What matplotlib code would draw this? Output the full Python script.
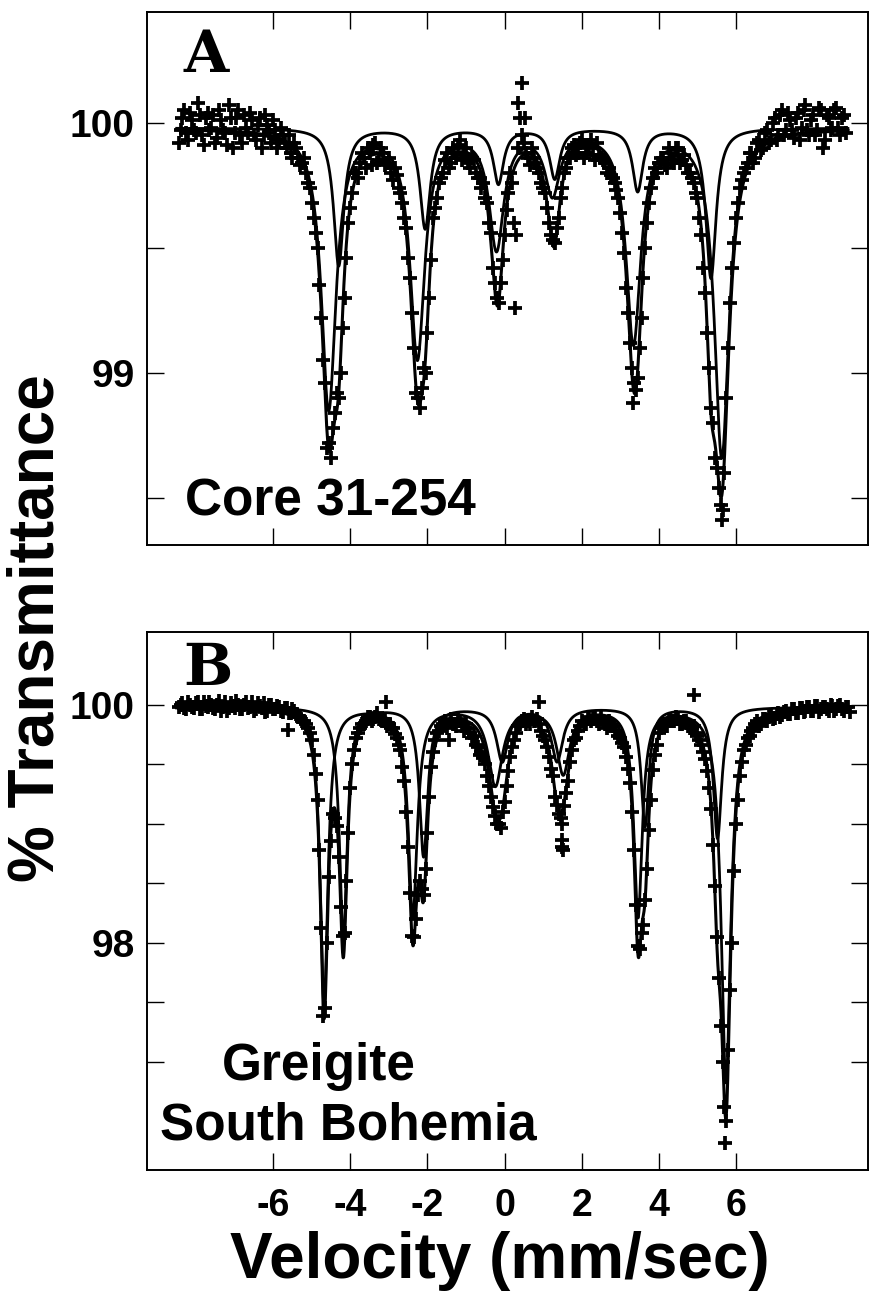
import numpy as np
import matplotlib
matplotlib.use("Agg")
import matplotlib.pyplot as plt

plt.rcParams['font.family'] = ['Liberation Sans', 'DejaVu Sans']

# ---- Core 31-254 (panel A) ----
vel_a = [-8.45, -8.35, -8.25, -8.15, -8.05, -7.95, -7.85, -7.75, -7.65, -7.55,
         -7.45, -7.35, -7.25, -7.15, -7.05, -6.95, -6.85, -6.75, -6.65, -6.55,
         -6.45, -6.35, -6.25, -6.15, -6.05, -5.95, -5.85, -5.75, -5.65, -5.55,
         -5.45, -5.35, -5.25, -5.15, -5.05, -4.95, -4.85, -4.75, -4.65, -4.55,
         -4.45, -4.35, -4.25, -4.15, -4.05, -3.95, -3.85, -3.75, -3.65, -3.55,
         -3.45, -3.35, -3.25, -3.15, -3.05, -2.95, -2.85, -2.75, -2.65, -2.55,
         -2.45, -2.35, -2.25, -2.15, -2.05, -1.95, -1.85, -1.75, -1.65, -1.55,
         -1.45, -1.35, -1.25, -1.15, -1.05, -0.95, -0.85, -0.75, -0.65, -0.55,
         -0.45, -0.35, -0.25, -0.15, -0.05, 0.05, 0.15, 0.25, 0.35, 0.45,
         0.55, 0.65, 0.75, 0.85, 0.95, 1.05, 1.15, 1.25, 1.35, 1.45,
         1.55, 1.65, 1.75, 1.85, 1.95, 2.05, 2.15, 2.25, 2.35, 2.45,
         2.55, 2.65, 2.75, 2.85, 2.95, 3.05, 3.15, 3.25, 3.35, 3.45,
         3.55, 3.65, 3.75, 3.85, 3.95, 4.05, 4.15, 4.25, 4.35, 4.45,
         4.55, 4.65, 4.75, 4.85, 4.95, 5.05, 5.15, 5.25, 5.35, 5.45,
         5.55, 5.65, 5.75, 5.85, 5.95, 6.05, 6.15, 6.25, 6.35, 6.45,
         6.55, 6.65, 6.75, 6.85, 6.95, 7.05, 7.15, 7.25, 7.35, 7.45,
         7.55, 7.65, 7.75, 7.85, 7.95, 8.05, 8.15, 8.25, 8.35, 8.45,
         8.55, 8.65, 8.75, 8.85,
         # second half of the folded spectrum
         -8.40, -8.30, -8.20, -8.10, -8.00, -7.90, -7.80, -7.70, -7.60, -7.50,
         -7.40, -7.30, -7.20, -7.10, -7.00, -6.90, -6.80, -6.70, -6.60, -6.50,
         -6.40, -6.30, -6.20, -6.10, -6.00, -5.90, -5.80, -5.70, -5.60, -5.50,
         -5.40, -5.30, -5.20, -5.10,
         -5.00, -4.90, -4.80, -4.70, -4.60, -4.50, -4.40, -4.30, -4.20, -4.10,
         -4.00, -3.90, -3.80, -3.70, -3.60, -3.50, -3.40, -3.30, -3.20, -3.10,
         -3.00, -2.90, -2.80,
         -2.70, -2.60, -2.50, -2.40, -2.30, -2.20, -2.10, -2.00, -1.90, -1.80,
         -1.70, -1.60, -1.50, -1.40, -1.30, -1.20, -1.10, -1.00, -0.90, -0.80,
         -0.70,
         -0.60, -0.50, -0.40, -0.30, -0.20, -0.10, 0.00, 0.10,
         0.20, 0.30, 0.40, 0.50, 0.60, 0.70, 0.80,
         0.90, 1.00, 1.10, 1.20, 1.30, 1.40, 1.50,
         1.60, 1.70, 1.80, 1.90, 2.00, 2.10, 2.20, 2.30, 2.40, 2.50,
         2.60, 2.70, 2.80,
         2.90, 3.00, 3.10, 3.20, 3.30, 3.40, 3.50, 3.60, 3.70,
         3.80, 3.90, 4.00, 4.10, 4.20, 4.30, 4.40, 4.50, 4.60, 4.70,
         4.80, 4.90, 5.00,
         5.10, 5.20, 5.30, 5.40, 5.50, 5.60, 5.70, 5.80, 5.90, 6.00,
         6.10, 6.20, 6.30, 6.40, 6.50, 6.60, 6.70, 6.80, 6.90, 7.00,
         7.10, 7.20, 7.30, 7.40, 7.50, 7.60, 7.70, 7.80, 7.90, 8.00,
         8.10, 8.20, 8.30, 8.40, 8.50, 8.60, 8.70, 8.80,
         # stray channels
         0.26, 0.34, 0.44, 0.52, 3.33, 5.63]
trans_a = [99.92, 100.02, 99.96, 100.04, 99.97, 100.08, 99.95, 100.02, 99.97, 100.03,
           99.94, 100.01, 99.96, 100.07, 99.90, 100.02, 99.95, 100.03, 99.96, 100.01,
           99.93, 100.02, 99.95, 99.99, 99.92, 99.97, 99.93, 99.95, 99.90, 99.88,
           99.92, 99.86, 99.84, 99.80, 99.74, 99.62, 99.50, 99.22, 98.96, 98.72,
           98.78, 98.92, 99.00, 99.30, 99.60, 99.72, 99.80, 99.84, 99.86, 99.90,
           99.83, 99.92, 99.85, 99.88, 99.84, 99.80, 99.82, 99.74, 99.68, 99.58,
           99.38, 99.10, 98.90, 98.94, 99.00, 99.30, 99.62, 99.70, 99.78, 99.85,
           99.82, 99.90, 99.86, 99.93, 99.87, 99.84, 99.86, 99.80, 99.78, 99.76,
           99.68, 99.56, 99.36, 99.28, 99.45, 99.65, 99.80, 99.60, 99.90, 99.95,
           99.88, 99.83, 99.86, 99.82, 99.76, 99.72, 99.60, 99.53, 99.58, 99.70,
           99.80, 99.86, 99.90, 99.87, 99.92, 99.86, 99.90, 99.93, 99.85, 99.87,
           99.85, 99.80, 99.79, 99.76, 99.70, 99.56, 99.34, 99.12, 98.96, 98.98,
           99.22, 99.50, 99.68, 99.78, 99.80, 99.86, 99.83, 99.90, 99.85, 99.90,
           99.84, 99.87, 99.80, 99.78, 99.72, 99.62, 99.42, 99.16, 98.86, 98.66,
           98.54, 98.45, 98.90, 99.28, 99.52, 99.68, 99.77, 99.82, 99.88, 99.84,
           99.92, 99.89, 99.96, 99.92, 100.00, 99.93, 100.03, 99.95, 100.04, 99.97,
           100.02, 99.93, 100.05, 99.97, 100.01, 99.95, 100.06, 99.90, 100.03, 99.97,
           100.05, 99.98, 100.02, 99.96,
           99.97, 100.05, 99.93, 100.01, 99.96, 100.03, 99.91, 100.04, 99.98, 99.92,
           100.05, 99.97, 99.91, 100.02, 99.96, 100.05, 99.92, 99.98, 100.04, 99.95,
           99.99, 99.90, 100.03, 99.96, 100.01, 99.90, 99.98, 99.92, 99.95, 99.86,
           99.90, 99.83, 99.86, 99.76,
           99.68, 99.56, 99.35, 99.05, 98.70, 98.66, 98.84, 98.90, 99.18, 99.46,
           99.66, 99.80, 99.78, 99.88, 99.82, 99.88, 99.91, 99.84, 99.90, 99.83,
           99.86, 99.77, 99.79,
           99.72, 99.62, 99.46, 99.24, 98.92, 98.86, 99.02, 99.16, 99.45, 99.66,
           99.76, 99.80, 99.88, 99.84, 99.88, 99.91, 99.85, 99.90, 99.82, 99.85,
           99.78,
           99.74, 99.70, 99.60, 99.42, 99.30, 99.36, 99.55, 99.72,
           99.76, 99.55, 100.02, 99.92, 99.86, 99.90, 99.84,
           99.80, 99.74, 99.66, 99.55, 99.52, 99.62, 99.74,
           99.82, 99.86, 99.91, 99.88, 99.93, 99.88, 99.91, 99.87, 99.92, 99.86,
           99.84, 99.82, 99.78,
           99.73, 99.64, 99.48, 99.24, 99.02, 98.93, 99.10, 99.38, 99.60,
           99.74, 99.82, 99.84, 99.86, 99.82, 99.88, 99.84, 99.90, 99.85, 99.83,
           99.80, 99.76, 99.70,
           99.55, 99.32, 99.02, 98.80, 98.62, 98.47, 98.60, 99.10, 99.42, 99.62,
           99.74, 99.80, 99.84, 99.88, 99.86, 99.93, 99.90, 99.97, 99.93, 100.02,
           99.95, 100.05, 99.97, 100.01, 99.94, 100.04, 99.98, 100.07, 99.95, 100.03,
           99.97, 100.05, 99.93, 100.02, 99.98, 100.06, 99.95, 100.03,
           99.26, 100.08, 100.16, 100.02, 98.88, 98.41]

# ---- Greigite, South Bohemia (panel B) ----
vel_b = [-8.45, -8.35, -8.25, -8.15, -8.05, -7.95, -7.85, -7.75, -7.65, -7.55,
         -7.45, -7.35, -7.25, -7.15, -7.05, -6.95, -6.85, -6.75, -6.65, -6.55,
         -6.45, -6.35, -6.25, -6.15, -6.05, -5.95, -5.85, -5.75, -5.65, -5.55,
         -5.45, -5.35, -5.25, -5.15, -5.05, -4.95, -4.85, -4.75, -4.65, -4.55,
         -4.45, -4.35, -4.25, -4.15, -4.05, -3.95, -3.85, -3.75, -3.65, -3.55,
         -3.45, -3.35, -3.25, -3.15, -3.05, -2.95, -2.85, -2.75, -2.65, -2.55,
         -2.45, -2.35, -2.25, -2.15, -2.05, -1.95, -1.85, -1.75, -1.65, -1.55,
         -1.45, -1.35, -1.25, -1.15, -1.05, -0.95, -0.85, -0.75, -0.65, -0.55,
         -0.45, -0.35, -0.25, -0.15, -0.05, 0.05, 0.15, 0.25, 0.35, 0.45,
         0.55, 0.65, 0.75, 0.85, 0.95, 1.05, 1.15, 1.25, 1.35, 1.45,
         1.55, 1.65, 1.75, 1.85, 1.95, 2.05, 2.15, 2.25, 2.35, 2.45,
         2.55, 2.65, 2.75, 2.85, 2.95, 3.05, 3.15, 3.25, 3.35, 3.45,
         3.55, 3.65, 3.75, 3.85, 3.95, 4.05, 4.15, 4.25, 4.35, 4.45,
         4.55, 4.65, 4.75, 4.85, 4.95, 5.05, 5.15, 5.25, 5.35, 5.45,
         5.55, 5.65, 5.75, 5.85, 5.95, 6.05, 6.15, 6.25, 6.35, 6.45,
         6.55, 6.65, 6.75, 6.85, 6.95, 7.05, 7.15, 7.25, 7.35, 7.45,
         7.55, 7.65, 7.75, 7.85, 7.95, 8.05, 8.15, 8.25, 8.35, 8.45,
         8.55, 8.65, 8.75, 8.85, 8.95,
         # second half of the folded spectrum
         -8.40, -8.30, -8.20, -8.10, -8.00, -7.90, -7.80, -7.70, -7.60, -7.50,
         -7.40, -7.30, -7.20, -7.10, -7.00, -6.90, -6.80, -6.70, -6.60, -6.50,
         -6.40, -6.30, -6.20, -6.10, -6.00, -5.90, -5.80, -5.70, -5.60, -5.50,
         -5.40, -5.30, -5.20, -5.10, -5.00,
         -4.90, -4.80, -4.70, -4.60, -4.50, -4.40, -4.30, -4.20, -4.10, -4.00,
         -3.90, -3.80, -3.70, -3.60, -3.50, -3.40, -3.30, -3.20, -3.10, -3.00,
         -2.90, -2.80, -2.70,
         -2.60, -2.50, -2.40, -2.30, -2.20, -2.10, -2.00, -1.90,
         -1.80, -1.70, -1.60, -1.50, -1.40, -1.30, -1.20, -1.10, -1.00, -0.90,
         -0.80, -0.70,
         -0.60, -0.50, -0.40, -0.30, -0.20, -0.10, 0.00, 0.10,
         0.20, 0.30, 0.40, 0.50, 0.60, 0.70, 0.80, 0.90, 1.00,
         1.10, 1.20, 1.30, 1.40, 1.50, 1.60, 1.70,
         1.80, 1.90, 2.00, 2.10, 2.20, 2.30, 2.40, 2.50, 2.60, 2.70,
         2.80, 2.90, 3.00, 3.10,
         3.20, 3.30, 3.40, 3.50, 3.60, 3.70, 3.80,
         3.90, 4.00, 4.10, 4.20, 4.30, 4.40, 4.50, 4.60, 4.70, 4.80,
         4.90, 5.00, 5.10, 5.20, 5.30,
         5.40, 5.50, 5.60, 5.70, 5.80, 5.90, 6.00,
         6.10, 6.20, 6.30, 6.40, 6.50, 6.60, 6.70, 6.80, 6.90, 7.00,
         7.10, 7.20, 7.30, 7.40, 7.50, 7.60, 7.70, 7.80, 7.90, 8.00,
         8.10, 8.20, 8.30, 8.40, 8.50, 8.60, 8.70, 8.80, 8.90,
         # stray channels
         -5.61, -3.07, 0.88, 1.48, 1.50, 1.52, 4.90, 5.72]
trans_b = [99.98, 100.01, 99.96, 100.00, 99.97, 100.02, 99.96, 99.99, 100.02, 99.97,
           100.00, 99.95, 100.02, 99.97, 99.99, 100.03, 99.96, 100.00, 99.97, 100.02,
           99.96, 99.99, 100.01, 99.95, 100.00, 99.96, 99.98, 99.94, 99.97, 99.93,
           99.95, 99.90, 99.86, 99.84, 99.76, 99.58, 99.20, 98.12, 97.45, 98.55,
           99.08, 98.98, 98.30, 98.08, 98.92, 99.50, 99.72, 99.80, 99.84, 99.90,
           99.86, 99.90, 99.88, 99.86, 99.82, 99.80, 99.75, 99.66, 99.48, 99.10,
           98.42, 98.05, 98.40, 98.45, 98.62, 99.22, 99.60, 99.76, 99.82, 99.86,
           99.70, 99.84, 99.82, 99.86, 99.78, 99.80, 99.72, 99.66, 99.58, 99.55,
           99.40, 99.22, 99.06, 99.00, 99.10, 99.32, 99.56, 99.70, 99.82, 99.86,
           99.84, 99.84, 99.86, 99.88, 99.78, 99.70, 99.56, 99.40, 99.16, 99.05,
           99.15, 99.36, 99.62, 99.72, 99.82, 99.84, 99.88, 99.86, 99.90, 99.84,
           99.86, 99.80, 99.84, 99.78, 99.74, 99.68, 99.56, 99.34, 98.78, 97.97,
           98.08, 98.36, 98.95, 99.45, 99.66, 99.80, 99.82, 99.86, 99.86, 99.90,
           99.84, 99.86, 99.82, 99.80, 99.76, 99.70, 99.60, 99.44, 99.12, 98.48,
           97.70, 97.00, 96.50, 97.60, 98.60, 99.20, 99.52, 99.66, 99.74, 99.80,
           99.86, 99.84, 99.88, 99.90, 99.88, 99.92, 99.90, 99.94, 99.92, 99.96,
           99.93, 99.97, 99.94, 99.98, 99.95, 99.99, 99.94, 99.98, 99.96, 100.00,
           99.95, 99.99, 99.96, 99.98, 99.94,
           100.00, 99.97, 100.02, 99.98, 100.01, 99.96, 100.02, 99.98, 100.00, 99.96,
           100.03, 99.98, 99.95, 100.01, 99.97, 100.00, 99.96, 100.02, 99.98, 99.95,
           100.01, 99.97, 99.94, 100.00, 99.96, 99.99, 99.95, 99.97, 99.93, 99.96,
           99.92, 99.90, 99.86, 99.80, 99.70,
           99.42, 98.78, 97.38, 98.00, 98.85, 99.05, 98.72, 98.06, 98.52, 99.30,
           99.62, 99.76, 99.84, 99.86, 99.90, 99.88, 99.93, 99.87, 99.88, 99.84,
           99.80, 99.72, 99.62,
           99.36, 98.80, 98.06, 98.20, 98.52, 98.40, 98.92, 99.48,
           99.70, 99.78, 99.84, 99.80, 99.88, 99.84, 99.88, 99.82, 99.84, 99.76,
           99.74, 99.64,
           99.60, 99.50, 99.32, 99.14, 99.00, 98.96, 99.18, 99.44,
           99.64, 99.76, 99.84, 99.88, 99.86, 99.90, 99.86, 99.84, 99.74,
           99.64, 99.46, 99.22, 99.08, 99.00, 99.26, 99.52,
           99.70, 99.78, 99.86, 99.84, 99.90, 99.88, 99.86, 99.90, 99.84, 99.86,
           99.82, 99.78, 99.72, 99.64,
           99.46, 99.10, 98.32, 97.95, 98.15, 98.62, 99.20,
           99.58, 99.76, 99.84, 99.82, 99.88, 99.86, 99.88, 99.84, 99.86, 99.80,
           99.82, 99.74, 99.66, 99.54, 99.30,
           98.82, 98.05, 97.30, 96.62, 97.10, 98.00, 99.00,
           99.40, 99.62, 99.72, 99.78, 99.84, 99.82, 99.88, 99.86, 99.91, 99.89,
           99.93, 99.91, 99.95, 99.92, 99.96, 99.93, 99.97, 99.95, 99.98, 99.95,
           99.99, 99.96, 99.98, 99.95, 99.99, 99.96, 100.00, 99.95, 99.98,
           99.79, 100.02, 100.02, 98.80, 98.86, 98.78, 100.08, 96.32]

# Lorentzian lines of the two fitted sextets: position (mm/s), depth (%), HWHM (mm/s)
base_a = 99.98
s1_pos_a = [-4.56, -2.26, -0.21, 1.24, 3.34, 5.63]
s1_depth_a = [1.12, 0.91, 0.47, 0.25, 0.85, 1.31]
s1_width_a = [0.23, 0.23, 0.23, 0.23, 0.23, 0.23]
s2_pos_a = [-4.30, -2.06, -0.16, 1.30, 3.45, 5.35]
s2_depth_a = [0.55, 0.40, 0.22, 0.20, 0.25, 0.60]
s2_width_a = [0.16, 0.16, 0.16, 0.16, 0.16, 0.16]

base_b = 99.98
s1_pos_b = [-4.68, -2.38, -0.24, 1.52, 3.46, 5.74]
s1_depth_b = [2.50, 1.75, 0.65, 0.55, 1.75, 3.15]
s1_width_b = [0.12, 0.14, 0.22, 0.20, 0.13, 0.15]
s2_pos_b = [-4.18, -2.10, -0.06, 1.36, 3.64, 5.52]
s2_depth_b = [1.95, 1.25, 0.45, 0.45, 1.00, 1.10]
s2_width_b = [0.12, 0.13, 0.18, 0.18, 0.12, 0.13]

v = np.linspace(-8.5, 8.9, 3000)


def sextet(pos, depth, width):
    out = np.zeros_like(v)
    for c, d, w in zip(pos, depth, width):
        out += d / (1 + ((v - c) / w) ** 2)
    return out


fig = plt.figure(figsize=(8.7, 12.96), dpi=100)
ax_a = fig.add_axes([0.16897, 0.57948, 0.8287, 0.41127])
ax_b = fig.add_axes([0.16897, 0.09722, 0.8287, 0.41512])

panels = [
    (ax_a, vel_a, trans_a, base_a, (s1_pos_a, s1_depth_a, s1_width_a),
     (s2_pos_a, s2_depth_a, s2_width_a)),
    (ax_b, vel_b, trans_b, base_b, (s1_pos_b, s1_depth_b, s1_width_b),
     (s2_pos_b, s2_depth_b, s2_width_b)),
]
for ax, vel, trans, base, s1, s2 in panels:
    a1 = sextet(*s1)
    a2 = sextet(*s2)
    ax.plot(vel, trans, '+', color='black', ms=10, mew=2.7)
    ax.plot(v, base - a1 - a2, color='black', lw=2.2)
    ax.plot(v, base - a1, color='black', lw=2.0)
    ax.plot(v, base - a2, color='black', lw=2.0)

for ax in (ax_a, ax_b):
    ax.set_xlim(-9.27, 9.42)
    ax.set_xticks([-6, -4, -2, 0, 2, 4, 6])
    ax.tick_params(direction='in', length=12, width=1.0, top=True, right=True)
    for sp in ax.spines.values():
        sp.set_linewidth(1.4)

ax_a.set_ylim(98.312, 100.444)
ax_a.set_yticks([98.5, 99, 99.5, 100])
ax_a.set_yticklabels(['', '99', '', '100'])
ax_a.tick_params(axis='x', labelbottom=False)
ax_a.tick_params(axis='y', pad=9, labelsize=28)
for t in ax_a.get_yticklabels():
    t.set_fontweight('bold')

ax_b.set_ylim(96.09, 100.61)
ax_b.set_yticks([97, 97.5, 98, 98.5, 99, 99.5, 100])
ax_b.set_yticklabels(['', '', '98', '', '', '', '100'])
ax_b.set_xticklabels(['-6', '-4', '-2', '0', '2', '4', '6'])
ax_b.tick_params(axis='y', pad=9, labelsize=28)
ax_b.tick_params(axis='x', pad=13, labelsize=27)
for t in ax_b.get_yticklabels() + ax_b.get_xticklabels():
    t.set_fontweight('bold')

ax_a.text(0.05, 0.887, 'A', transform=ax_a.transAxes, fontsize=42,
          fontweight='bold', family='DejaVu Serif', va='baseline')
ax_b.text(0.05, 0.901, 'B', transform=ax_b.transAxes, fontsize=42,
          fontweight='bold', family='DejaVu Serif', va='baseline')
ax_a.text(0.053, 0.056, 'Core 31-254', transform=ax_a.transAxes,
          fontsize=37, fontweight='bold', va='baseline')
ax_b.text(0.104, 0.167, 'Greigite', transform=ax_b.transAxes,
          fontsize=37, fontweight='bold', va='baseline')
ax_b.text(0.018, 0.056, 'South Bohemia', transform=ax_b.transAxes,
          fontsize=37, fontweight='bold', va='baseline')

fig.text(0.0425, 0.5154, '% Transmittance', rotation=90, fontsize=46,
         fontweight='bold', ha='center', va='center')
fig.text(0.575, 0.014, 'Velocity (mm/sec)', fontsize=46, fontweight='bold',
         ha='center', va='baseline')

fig.savefig('out.png', dpi=100)
